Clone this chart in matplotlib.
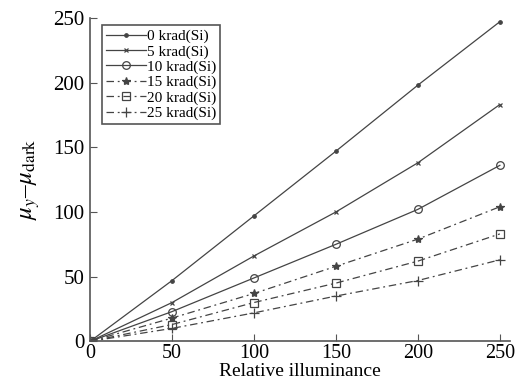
import numpy as np
import matplotlib as mpl
mpl.use('Agg')
import matplotlib.pyplot as plt

plt.rcParams['font.family'] = 'Liberation Serif'
plt.rcParams['mathtext.fontset'] = 'stix'

illum = [0, 50, 100, 150, 200, 250]
k0 = [0, 47, 97, 147, 198, 247]
k5 = [0, 30, 66, 100, 138, 183]
k10 = [0, 23, 49, 75, 102, 136]
k15 = [0, 18, 37, 58, 79, 104]
k20 = [0, 13, 30, 45, 62, 83]
k25 = [0, 10, 22, 35, 47, 63]
labels = ['0 krad(Si)', '5 krad(Si)', '10 krad(Si)', '15 krad(Si)', '20 krad(Si)', '25 krad(Si)']

col = '#444444'
fig = plt.figure(figsize=(5.18, 3.87), dpi=100)
ax = fig.add_axes([0.174, 0.118, 0.81, 0.836])

dashdot = (0, (6, 3, 1.5, 3))
styles = [
    (k0, '-', '.', 'full', 5),
    (k5, '-', 'x', 'full', 3.5),
    (k10, '-', 'o', 'none', 5.5),
    (k15, dashdot, '*', 'full', 6),
    (k20, dashdot, 's', 'none', 5.5),
    (k25, dashdot, '+', 'full', 6.5),
]
for (ys, ls, mk, fs, ms), lab in zip(styles, labels):
    ax.plot(illum, ys, linestyle=ls, marker=mk, fillstyle=fs, markersize=ms,
            color=col, lw=0.9, mew=0.9, label=lab)

ax.set_xlim(0, 256)
ax.set_ylim(0, 250)
ax.set_xticks([0, 50, 100, 150, 200, 250])
ax.set_yticks([0, 50, 100, 150, 200, 250])
ax.spines['top'].set_visible(False)
ax.spines['right'].set_visible(False)
for s in ['left', 'bottom']:
    ax.spines[s].set_color('#555555')
    ax.spines[s].set_linewidth(1.2)
ax.tick_params(direction='in', length=5, color='#555555', labelsize=15)
ax.tick_params(axis='x', pad=2, labelsize=14.5)
ax.tick_params(axis='y', pad=4)
ax.set_xlabel('Relative illuminance', fontsize=14, labelpad=0)
ax.set_ylabel(r'$\mu_y$' + '\u2013' + r'$\mu_{\rm dark}$', fontsize=18, labelpad=8)

leg = ax.legend(loc='upper left', bbox_to_anchor=(0.01, 1.0), fontsize=11,
                handlelength=2.6, handletextpad=0.1, labelspacing=0.1,
                borderpad=0.25, fancybox=False, framealpha=1)
leg.get_frame().set_edgecolor('#555555')
leg.get_frame().set_linewidth(1.2)

fig.savefig('out.png', dpi=100)
